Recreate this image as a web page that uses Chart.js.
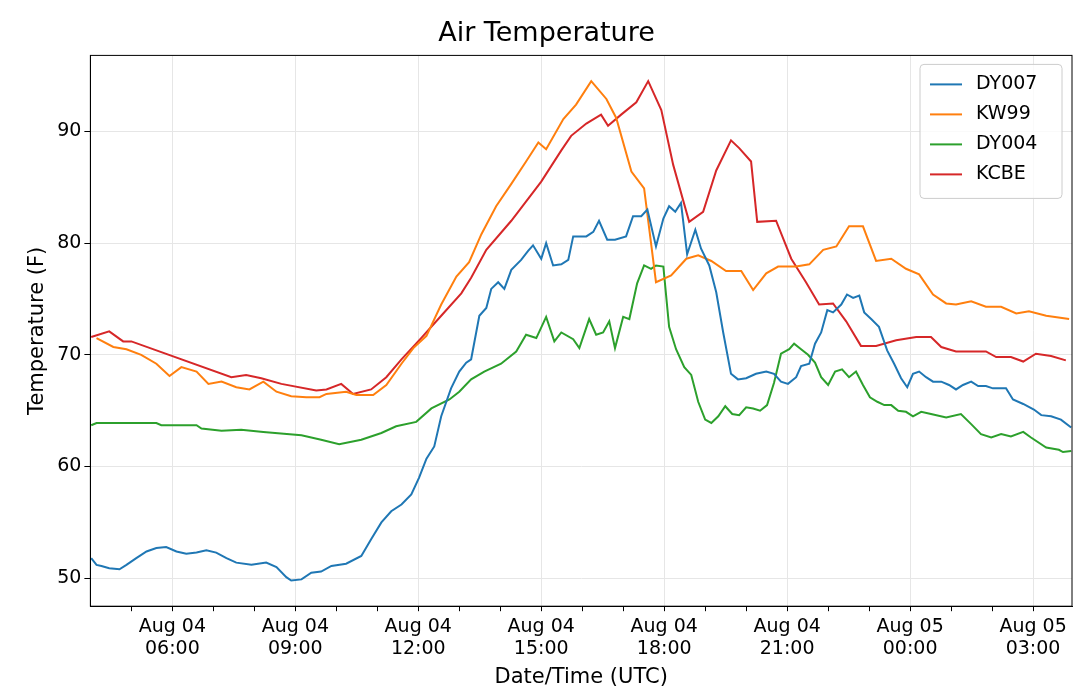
<!DOCTYPE html>
<html>
<head>
<meta charset="utf-8">
<script src="https://cdn.jsdelivr.net/npm/chart.js@4/dist/chart.umd.min.js"></script>
<style>
  html, body { margin: 0; padding: 0; background: #fff; }
  #wrap { width: 1080px; height: 694px; }
</style>
</head>
<body>
<div id="wrap"><canvas id="tempChart" width="1080" height="694"></canvas></div>
<script>
// hours since Aug 04 00:00 UTC
const dy007Hours = [4.02,4.15,4.27,4.46,4.71,4.88,5.12,5.37,5.61,5.85,6.10,6.34,6.59,6.83,7.07,7.32,7.56,7.93,8.29,8.54,8.78,8.90,9.15,9.39,9.63,9.88,10.24,10.61,10.85,11.10,11.34,11.59,11.83,12.02,12.20,12.39,12.56,12.80,13.00,13.17,13.29,13.49,13.66,13.78,13.95,14.10,14.27,14.51,14.68,14.80,15.00,15.12,15.29,15.49,15.66,15.78,16.10,16.27,16.41,16.61,16.80,17.07,17.24,17.44,17.59,17.80,17.98,18.12,18.27,18.41,18.56,18.76,18.90,19.10,19.27,19.44,19.63,19.80,20.00,20.24,20.49,20.68,20.85,21.02,21.22,21.34,21.54,21.68,21.83,21.98,22.12,22.32,22.46,22.61,22.76,22.88,23.05,23.24,23.44,23.61,23.78,23.93,24.07,24.22,24.39,24.56,24.76,24.95,25.12,25.29,25.49,25.66,25.85,26.02,26.34,26.51,26.76,27.02,27.20,27.44,27.68,27.93];
const dy007Temps = [51.8,51.2,51.1,50.9,50.8,51.2,51.8,52.4,52.7,52.8,52.4,52.2,52.3,52.5,52.3,51.8,51.4,51.2,51.4,51.0,50.1,49.8,49.9,50.5,50.6,51.1,51.3,52.0,53.5,55.0,56.0,56.6,57.5,59.0,60.7,61.8,64.5,67.0,68.5,69.3,69.6,73.5,74.2,75.9,76.5,75.9,77.6,78.5,79.3,79.8,78.6,80.0,78.0,78.1,78.5,80.6,80.6,81.0,82.0,80.3,80.3,80.6,82.4,82.4,83.0,79.7,82.2,83.3,82.8,83.6,79.0,81.2,79.5,78.0,75.6,72.0,68.3,67.8,67.9,68.3,68.5,68.3,67.6,67.4,68.0,69.0,69.2,71.0,72.0,74.0,73.8,74.5,75.4,75.1,75.3,73.8,73.2,72.5,70.4,69.2,67.9,67.1,68.3,68.5,68.0,67.6,67.6,67.3,66.9,67.3,67.6,67.2,67.2,67.0,67.0,66.0,65.6,65.1,64.6,64.5,64.2,63.5];

const kw99Hours = [4.15,4.56,4.88,5.24,5.61,5.93,6.22,6.59,6.88,7.20,7.56,7.88,8.22,8.54,8.90,9.27,9.59,9.76,10.24,10.49,10.90,11.22,11.59,11.88,12.20,12.56,12.93,13.24,13.54,13.90,14.27,14.63,14.93,15.12,15.54,15.85,16.22,16.59,16.83,17.20,17.51,17.80,18.17,18.54,18.83,19.15,19.51,19.88,20.17,20.49,20.78,21.22,21.54,21.88,22.20,22.51,22.85,23.17,23.54,23.90,24.22,24.56,24.88,25.12,25.49,25.85,26.22,26.59,26.90,27.32,27.88];
const kw99Temps = [71.5,70.7,70.5,70.0,69.2,68.1,68.9,68.5,67.4,67.6,67.1,66.9,67.6,66.7,66.3,66.2,66.2,66.5,66.7,66.4,66.4,67.3,69.2,70.6,71.7,74.5,77.0,78.3,80.8,83.3,85.3,87.3,89.0,88.4,91.1,92.4,94.5,92.9,91.2,86.4,84.9,76.5,77.1,78.6,78.9,78.4,77.5,77.5,75.8,77.3,77.9,77.9,78.1,79.4,79.7,81.5,81.5,78.4,78.6,77.7,77.2,75.4,74.6,74.5,74.8,74.3,74.3,73.7,73.9,73.5,73.2];

const dy004Hours = [4.02,4.15,5.61,5.73,6.59,6.71,7.20,7.68,8.22,9.15,9.63,10.07,10.61,11.10,11.46,11.95,12.32,12.76,13.00,13.29,13.61,14.02,14.39,14.63,14.88,15.12,15.32,15.49,15.78,15.93,16.17,16.34,16.51,16.66,16.80,17.00,17.15,17.34,17.51,17.68,17.80,17.98,18.12,18.29,18.49,18.66,18.83,19.00,19.15,19.32,19.49,19.66,19.83,20.00,20.17,20.34,20.51,20.68,20.85,21.05,21.17,21.34,21.51,21.68,21.83,22.00,22.17,22.34,22.51,22.68,22.85,23.02,23.20,23.37,23.54,23.71,23.90,24.07,24.27,24.51,24.88,25.24,25.49,25.73,25.98,26.22,26.46,26.76,26.95,27.32,27.63,27.73,27.93];
const dy004Temps = [63.7,63.9,63.9,63.7,63.7,63.4,63.2,63.3,63.1,62.8,62.4,62.0,62.4,63.0,63.6,64.0,65.2,66.0,66.7,67.8,68.5,69.2,70.3,71.8,71.5,73.4,71.2,72.0,71.4,70.6,73.2,71.8,72.0,73.0,70.6,73.4,73.2,76.4,78.0,77.7,78.0,77.9,72.5,70.5,68.9,68.2,65.8,64.2,63.9,64.5,65.4,64.7,64.6,65.3,65.2,65.0,65.5,67.5,70.1,70.5,71.0,70.5,70.0,69.3,68.0,67.3,68.5,68.7,68.0,68.5,67.3,66.2,65.8,65.5,65.5,65.0,64.9,64.5,64.9,64.7,64.4,64.7,63.8,62.9,62.6,62.9,62.7,63.1,62.6,61.7,61.5,61.3,61.4];

const kcbeHours = [4.02,4.46,4.80,5.00,7.44,7.80,8.17,8.66,9.51,9.76,10.12,10.41,10.85,11.22,11.59,12.07,12.56,13.05,13.29,13.66,14.27,15.00,15.49,15.73,16.10,16.46,16.63,16.95,17.32,17.61,17.93,18.22,18.61,18.95,19.27,19.63,19.83,20.12,20.27,20.73,21.10,21.46,21.78,22.12,22.44,22.80,23.17,23.66,24.15,24.51,24.76,25.12,25.85,26.10,26.46,26.76,27.07,27.44,27.80];
const kcbeTemps = [71.6,72.1,71.2,71.2,68.0,68.2,67.9,67.4,66.8,66.9,67.4,66.5,66.9,68.0,69.6,71.5,73.5,75.5,76.9,79.4,82.0,85.5,88.3,89.6,90.7,91.5,90.5,91.5,92.6,94.5,91.9,87.0,81.9,82.8,86.5,89.2,88.5,87.3,81.9,82.0,78.6,76.5,74.5,74.6,73.0,70.8,70.8,71.3,71.6,71.6,70.7,70.3,70.3,69.8,69.8,69.4,70.1,69.9,69.5];

const seriesNames = ["DY007", "KW99", "DY004", "KCBE"];
const seriesColors = ["#1f77b4", "#ff7f0e", "#2ca02c", "#d62728"];
const yTicks = [50, 60, 70, 80, 90];

function pts(hours, temps) {
  return hours.map((h, i) => ({ x: h, y: temps[i] }));
}

const seriesData = [
  pts(dy007Hours, dy007Temps),
  pts(kw99Hours, kw99Temps),
  pts(dy004Hours, dy004Temps),
  pts(kcbeHours, kcbeTemps),
];

function pad2(n) { return String(n).padStart(2, "0"); }

// frame + legend drawn inside the plot area
const framePlugin = {
  id: "frame",
  afterDraw(chart) {
    const { ctx, chartArea: a } = chart;
    ctx.save();
    ctx.strokeStyle = "#000";
    ctx.lineWidth = 1;
    ctx.strokeRect(a.left, a.top, a.right - a.left, a.bottom - a.top);

    const bx = a.right - 152, by = a.top + 9, bw = 142, bh = 134;
    ctx.fillStyle = "rgba(255,255,255,0.8)";
    ctx.strokeStyle = "#ccc";
    ctx.beginPath();
    ctx.roundRect(bx, by, bw, bh, 4);
    ctx.fill();
    ctx.stroke();
    ctx.font = "19px 'DejaVu Sans'";
    ctx.textBaseline = "middle";
    seriesNames.forEach((name, i) => {
      const yy = by + 20 + i * 30;
      ctx.strokeStyle = seriesColors[i];
      ctx.lineWidth = 2;
      ctx.beginPath();
      ctx.moveTo(bx + 10, yy);
      ctx.lineTo(bx + 42, yy);
      ctx.stroke();
      ctx.fillStyle = "#000";
      ctx.fillText(name, bx + 56, yy);
    });
    ctx.restore();
  },
};

new Chart(document.getElementById("tempChart"), {
  type: "line",
  data: {
    datasets: seriesNames.map((name, i) => ({
      label: name,
      data: seriesData[i],
      borderColor: seriesColors[i],
      borderWidth: 2,
      pointRadius: 0,
      tension: 0,
      fill: false,
    })),
  },
  options: {
    responsive: false,
    animation: false,
    layout: { padding: { left: 21, right: 8, top: 0, bottom: 4 } },
    plugins: {
      legend: { display: false },
      tooltip: { enabled: false },
      title: {
        display: true,
        text: "Air Temperature",
        color: "#000",
        font: { family: "DejaVu Sans", size: 27, weight: "normal" },
        padding: { top: 18, bottom: 5 },
      },
    },
    scales: {
      x: {
        type: "linear",
        min: 4.0,
        max: 27.95,
        afterBuildTicks(axis) {
          const t = [];
          for (let h = 5; h <= 27; h++) t.push({ value: h });
          axis.ticks = t;
        },
        grid: {
          color: (c) => (c.tick && c.tick.value % 3 === 0 ? "#e6e6e6" : "rgba(0,0,0,0)"),
          tickColor: "#000",
          tickLength: 5,
        },
        border: { color: "#000" },
        ticks: {
          autoSkip: false,
          maxRotation: 0,
          color: "#000",
          padding: 4,
          font: { family: "DejaVu Sans", size: 19 },
          callback(v) {
            if (v % 3 !== 0) return "";
            const day = v >= 24 ? "Aug 05" : "Aug 04";
            return [day, pad2(v % 24) + ":00"];
          },
        },
        title: {
          display: true,
          text: "Date/Time (UTC)",
          color: "#000",
          font: { family: "DejaVu Sans", size: 21 },
          padding: { top: 0, bottom: 0 },
        },
      },
      y: {
        min: 47.5,
        max: 96.8,
        afterBuildTicks(axis) {
          axis.ticks = yTicks.map((v) => ({ value: v }));
        },
        grid: { color: "#e6e6e6", tickColor: "#000", tickLength: 6 },
        border: { color: "#000" },
        ticks: {
          color: "#000",
          font: { family: "DejaVu Sans", size: 19 },
        },
        title: {
          display: true,
          text: "Temperature (F)",
          color: "#000",
          font: { family: "DejaVu Sans", size: 21 },
        },
      },
    },
  },
  plugins: [framePlugin],
});
</script>
</body>
</html>
